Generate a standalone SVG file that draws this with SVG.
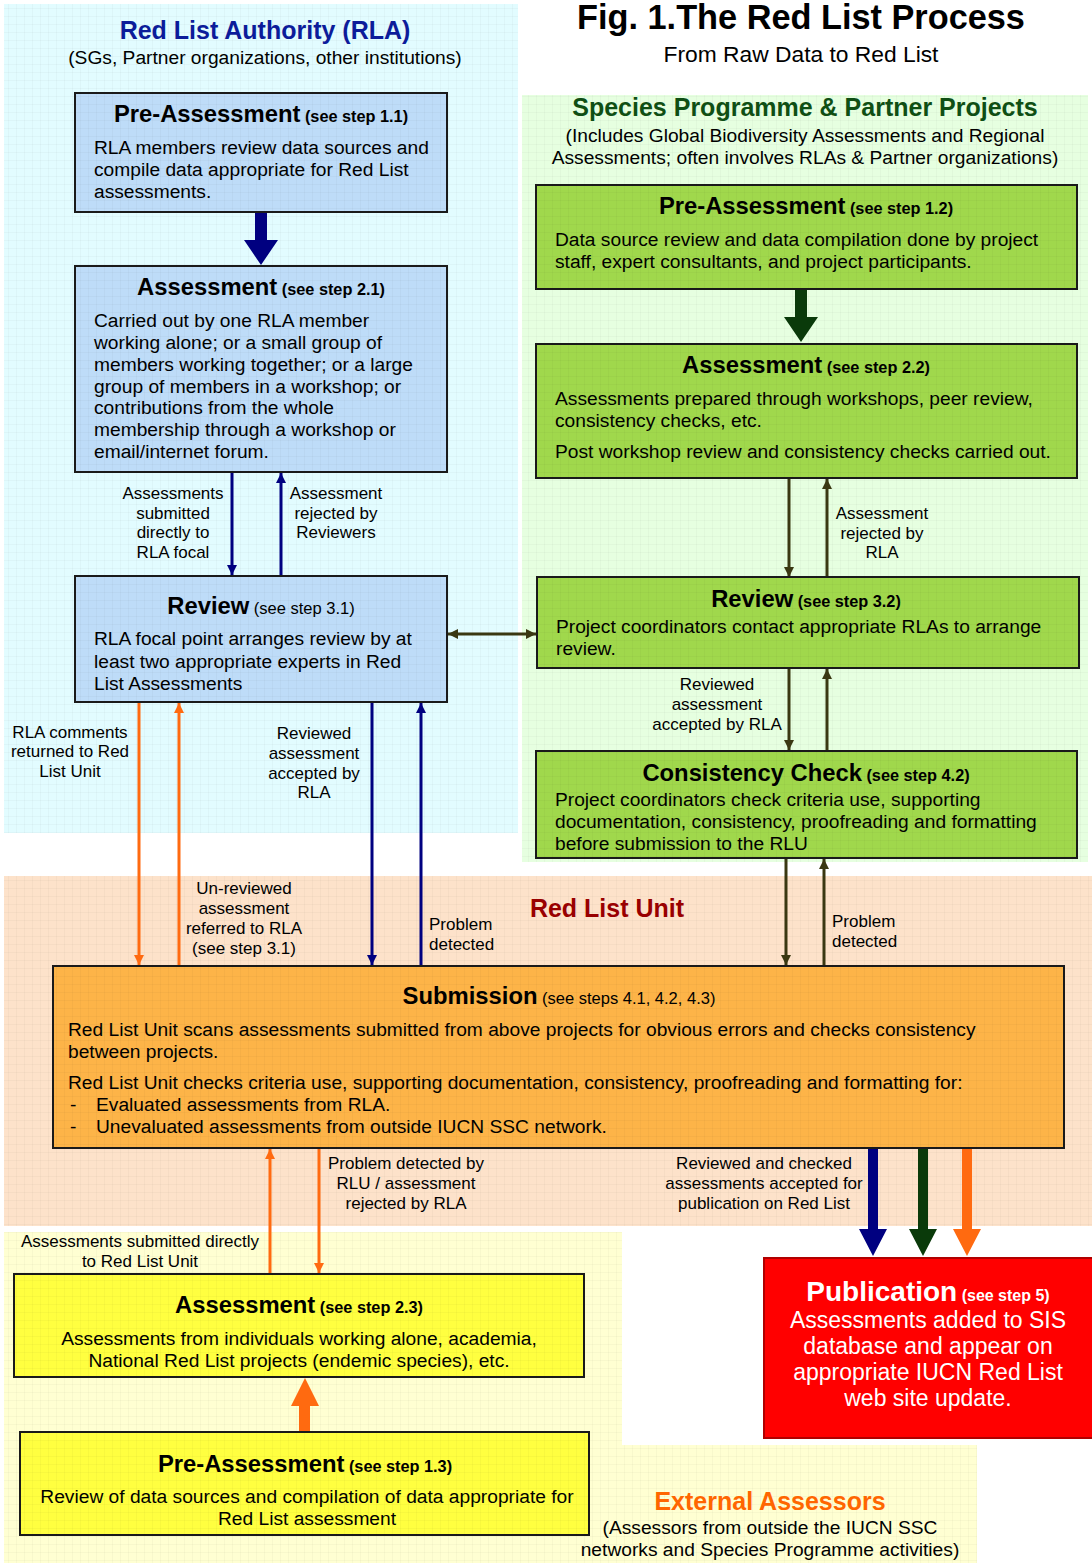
<svg xmlns="http://www.w3.org/2000/svg" width="1092" height="1563" viewBox="0 0 1092 1563">
<defs>
<style>
text{font-family:"Liberation Sans",Arial,sans-serif;fill:#000}
.box{stroke:#1a1a1a;stroke-width:2}
.blue{fill:#bedcf8}
.green{fill:#a0d84c}
.orange{fill:#fdb448}
.yellow{fill:#ffff40}
.red{fill:#ff0000;stroke:#b00000;stroke-width:2}
.t{font-size:23.8px;font-weight:bold}
.s{font-size:16.3px;font-weight:bold}
.sn{font-size:16.5px}
.b{font-size:19.2px}
.c{text-anchor:middle}
.lab{font-size:17px;text-anchor:middle}
.labl{font-size:17px}
.sub{font-size:19.2px;text-anchor:middle}
.navy{stroke:#000080;stroke-width:3;fill:none}
.org{stroke:#ff6a10;stroke-width:3;fill:none}
.olv{stroke:#3a3812;stroke-width:3;fill:none}
.grid{fill:url(#grid)}
.pub{font-size:23px;fill:#fff;text-anchor:middle}
</style>
<pattern id="grid" width="8" height="8" patternUnits="userSpaceOnUse">
<path d="M8 0H0V8" fill="none" stroke="#000" stroke-opacity="0.05" stroke-width="1"/>
</pattern>
<marker id="mNavy" viewBox="0 0 10 10" refX="10" refY="5" markerWidth="10" markerHeight="10" markerUnits="userSpaceOnUse" orient="auto"><path d="M0,0L10,5L0,10z" fill="#000080"/></marker>
<marker id="mOrg" viewBox="0 0 10 10" refX="10" refY="5" markerWidth="10" markerHeight="10" markerUnits="userSpaceOnUse" orient="auto"><path d="M0,0L10,5L0,10z" fill="#ff6a10"/></marker>
<marker id="mOlv" viewBox="0 0 10 10" refX="10" refY="5" markerWidth="10" markerHeight="10" markerUnits="userSpaceOnUse" orient="auto"><path d="M0,0L10,5L0,10z" fill="#3a3812"/></marker>
<marker id="mOlvS" viewBox="0 0 10 10" refX="10" refY="5" markerWidth="10" markerHeight="10" markerUnits="userSpaceOnUse" orient="auto-start-reverse"><path d="M0,0L10,5L0,10z" fill="#3a3812"/></marker>
</defs>
<rect width="1092" height="1563" fill="#fff"/>

<g id="regions">
<rect x="4" y="4" width="514" height="829" fill="#e2fcff"/>
<rect x="4" y="4" width="514" height="829" class="grid"/>
<rect x="522" y="95" width="566" height="767" fill="#e6ffe0"/>
<rect x="522" y="95" width="566" height="767" class="grid"/>
<rect x="4" y="876" width="1088" height="350" fill="#fde2ca"/>
<rect x="4" y="876" width="1088" height="350" class="grid"/>
<path d="M4 1232H622V1445H977V1563H4Z" fill="#ffffd2"/>
<path d="M4 1232H622V1445H977V1563H4Z" class="grid"/>
</g>

<g id="titles">
<text x="265" y="39" class="c" style="font-size:25px;font-weight:bold;fill:#0c1c9a">Red List Authority (RLA)</text>
<text x="265" y="64" class="sub">(SGs, Partner organizations, other institutions)</text>
<text x="801" y="29" class="c" style="font-size:34.3px;font-weight:bold">Fig. 1.The Red List Process</text>
<text x="801" y="62" class="c" style="font-size:22.8px">From Raw Data to Red List</text>
<text x="805" y="116" class="c" style="font-size:25px;font-weight:bold;fill:#0f4f14">Species Programme &amp; Partner Projects</text>
<text x="805" y="142" class="sub">(Includes Global Biodiversity Assessments and Regional</text>
<text x="805" y="164" class="sub">Assessments; often involves RLAs &amp; Partner organizations)</text>
<text x="607" y="917" class="c" style="font-size:25px;font-weight:bold;fill:#990000">Red List Unit</text>
<text x="770" y="1510" class="c" style="font-size:25px;font-weight:bold;fill:#ff6600">External Assessors</text>
<text x="770" y="1534" class="sub">(Assessors from outside the IUCN SSC</text>
<text x="770" y="1556" class="sub">networks and Species Programme activities)</text>
</g>

<g id="connectors">
<path d="M255 212H267V240H278L261 265L244 240H255Z" fill="#000080"/>
<path d="M795 289H807V317H818L801 342L784 317H795Z" fill="#0a3a0a"/>
<line x1="232" y1="472" x2="232" y2="575" class="navy" marker-end="url(#mNavy)"/>
<line x1="281" y1="576" x2="281" y2="473" class="navy" marker-end="url(#mNavy)"/>
<line x1="448" y1="634" x2="536" y2="634" class="olv" marker-start="url(#mOlvS)" marker-end="url(#mOlvS)"/>
<line x1="789" y1="478" x2="789" y2="577" class="olv" marker-end="url(#mOlv)"/>
<line x1="827" y1="577" x2="827" y2="479" class="olv" marker-end="url(#mOlv)"/>
<line x1="789" y1="668" x2="789" y2="750" class="olv" marker-end="url(#mOlv)"/>
<line x1="827" y1="751" x2="827" y2="669" class="olv" marker-end="url(#mOlv)"/>
<line x1="786" y1="858" x2="786" y2="965" class="olv" marker-end="url(#mOlv)"/>
<line x1="824" y1="966" x2="824" y2="859" class="olv" marker-end="url(#mOlv)"/>
<line x1="139" y1="702" x2="139" y2="965" class="org" marker-end="url(#mOrg)"/>
<line x1="179" y1="966" x2="179" y2="703" class="org" marker-end="url(#mOrg)"/>
<line x1="372" y1="702" x2="372" y2="965" class="navy" marker-end="url(#mNavy)"/>
<line x1="421" y1="966" x2="421" y2="703" class="navy" marker-end="url(#mNavy)"/>
<line x1="270" y1="1274" x2="270" y2="1149" class="org" marker-end="url(#mOrg)"/>
<line x1="319" y1="1148" x2="319" y2="1273" class="org" marker-end="url(#mOrg)"/>
<path d="M868 1148H878V1229H887L873 1256L859 1229H868Z" fill="#000080"/>
<path d="M918 1148H928V1229H937L923 1256L909 1229H918Z" fill="#0a3a0a"/>
<path d="M962 1148H972V1229H981L967 1256L953 1229H962Z" fill="#ff6a10"/>
<path d="M299 1432H310V1406H319L305 1378L291 1406H299Z" fill="#ff6a10"/>
</g>

<g id="connector-labels">
<text class="lab" x="173" y="499">Assessments</text>
<text class="lab" x="173" y="519">submitted</text>
<text class="lab" x="173" y="538">directly to</text>
<text class="lab" x="173" y="558">RLA focal</text>
<text class="lab" x="336" y="499">Assessment</text>
<text class="lab" x="336" y="519">rejected by</text>
<text class="lab" x="336" y="538">Reviewers</text>
<text class="lab" x="882" y="519">Assessment</text>
<text class="lab" x="882" y="539">rejected by</text>
<text class="lab" x="882" y="558">RLA</text>
<text class="lab" x="717" y="690">Reviewed</text>
<text class="lab" x="717" y="710">assessment</text>
<text class="lab" x="717" y="730">accepted by RLA</text>
<text class="lab" x="70" y="738">RLA comments</text>
<text class="lab" x="70" y="757">returned to Red</text>
<text class="lab" x="70" y="777">List Unit</text>
<text class="lab" x="314" y="739">Reviewed</text>
<text class="lab" x="314" y="759">assessment</text>
<text class="lab" x="314" y="779">accepted by</text>
<text class="lab" x="314" y="798">RLA</text>
<text class="lab" x="244" y="894">Un-reviewed</text>
<text class="lab" x="244" y="914">assessment</text>
<text class="lab" x="244" y="934">referred to RLA</text>
<text class="lab" x="244" y="954">(see step 3.1)</text>
<text class="labl" x="429" y="930">Problem</text>
<text class="labl" x="429" y="950">detected</text>
<text class="labl" x="832" y="927">Problem</text>
<text class="labl" x="832" y="947">detected</text>
<text class="lab" x="406" y="1169">Problem detected by</text>
<text class="lab" x="406" y="1189">RLU / assessment</text>
<text class="lab" x="406" y="1209">rejected by RLA</text>
<text class="lab" x="764" y="1169">Reviewed and checked</text>
<text class="lab" x="764" y="1189">assessments accepted for</text>
<text class="lab" x="764" y="1209">publication on Red List</text>
<text class="lab" x="140" y="1247">Assessments submitted directly</text>
<text class="lab" x="140" y="1267">to Red List Unit</text>
</g>

<g id="n-pre11">
<rect x="75" y="93" width="372" height="119" class="box blue"/>
<rect x="75" y="93" width="372" height="119" class="grid"/>
<text x="261" y="122" class="c"><tspan class="t">Pre-Assessment</tspan><tspan class="s"> (see step 1.1)</tspan></text>
<text x="94" y="154" class="b">RLA members review data sources and</text>
<text x="94" y="176" class="b">compile data appropriate for Red List</text>
<text x="94" y="198" class="b">assessments.</text>
</g>

<g id="n-ass21">
<rect x="75" y="266" width="372" height="206" class="box blue"/>
<rect x="75" y="266" width="372" height="206" class="grid"/>
<text x="261" y="295" class="c"><tspan class="t">Assessment</tspan><tspan class="s"> (see step 2.1)</tspan></text>
<text x="94" y="327" class="b">Carried out by one RLA member</text>
<text x="94" y="349" class="b">working alone; or a small group of</text>
<text x="94" y="371" class="b">members working together; or a large</text>
<text x="94" y="393" class="b">group of members in a workshop; or</text>
<text x="94" y="414" class="b">contributions from the whole</text>
<text x="94" y="436" class="b">membership through a workshop or</text>
<text x="94" y="458" class="b">email/internet forum.</text>
</g>

<g id="n-rev31">
<rect x="75" y="576" width="372" height="126" class="box blue"/>
<rect x="75" y="576" width="372" height="126" class="grid"/>
<text x="261" y="614" class="c"><tspan class="t">Review</tspan><tspan class="sn"> (see step 3.1)</tspan></text>
<text x="94" y="645" class="b">RLA focal point arranges review by at</text>
<text x="94" y="668" class="b">least two appropriate experts in Red</text>
<text x="94" y="690" class="b">List Assessments</text>
</g>

<g id="n-pre12">
<rect x="536" y="185" width="541" height="104" class="box green"/>
<rect x="536" y="185" width="541" height="104" class="grid"/>
<text x="806" y="214" class="c"><tspan class="t">Pre-Assessment</tspan><tspan class="s"> (see step 1.2)</tspan></text>
<text x="555" y="246" class="b">Data source review and data compilation done by project</text>
<text x="555" y="268" class="b">staff, expert consultants, and project participants.</text>
</g>

<g id="n-ass22">
<rect x="536" y="344" width="541" height="134" class="box green"/>
<rect x="536" y="344" width="541" height="134" class="grid"/>
<text x="806" y="373" class="c"><tspan class="t">Assessment</tspan><tspan class="s"> (see step 2.2)</tspan></text>
<text x="555" y="405" class="b">Assessments prepared through workshops, peer review,</text>
<text x="555" y="427" class="b">consistency checks, etc.</text>
<text x="555" y="458" class="b">Post workshop review and consistency checks carried out.</text>
</g>

<g id="n-rev32">
<rect x="537" y="577" width="542" height="91" class="box green"/>
<rect x="537" y="577" width="542" height="91" class="grid"/>
<text x="806" y="607" class="c"><tspan class="t">Review</tspan><tspan class="s"> (see step 3.2)</tspan></text>
<text x="556" y="633" class="b">Project coordinators contact appropriate RLAs to arrange</text>
<text x="556" y="655" class="b">review.</text>
</g>

<g id="n-cons42">
<rect x="536" y="751" width="541" height="107" class="box green"/>
<rect x="536" y="751" width="541" height="107" class="grid"/>
<text x="806" y="781" class="c"><tspan class="t">Consistency Check</tspan><tspan class="s"> (see step 4.2)</tspan></text>
<text x="555" y="806" class="b">Project coordinators check criteria use, supporting</text>
<text x="555" y="828" class="b">documentation, consistency, proofreading and formatting</text>
<text x="555" y="850" class="b">before submission to the RLU</text>
</g>

<g id="n-submission">
<rect x="53" y="966" width="1011" height="182" class="box orange"/>
<rect x="53" y="966" width="1011" height="182" class="grid"/>
<text x="559" y="1004" class="c"><tspan class="t">Submission</tspan><tspan class="sn"> (see steps 4.1, 4.2, 4.3)</tspan></text>
<text x="68" y="1036" class="b">Red List Unit scans assessments submitted from above projects for obvious errors and checks consistency</text>
<text x="68" y="1058" class="b">between projects.</text>
<text x="68" y="1089" class="b">Red List Unit checks criteria use, supporting documentation, consistency, proofreading and formatting for:</text>
<text x="70" y="1111" class="b">-</text>
<text x="96" y="1111" class="b">Evaluated assessments from RLA.</text>
<text x="70" y="1133" class="b">-</text>
<text x="96" y="1133" class="b">Unevaluated assessments from outside IUCN SSC network.</text>
</g>

<g id="n-ass23">
<rect x="14" y="1274" width="570" height="103" class="box yellow"/>
<rect x="14" y="1274" width="570" height="103" class="grid"/>
<text x="299" y="1313" class="c"><tspan class="t">Assessment</tspan><tspan class="s"> (see step 2.3)</tspan></text>
<text x="299" y="1345" class="b c">Assessments from individuals working alone, academia,</text>
<text x="299" y="1367" class="b c">National Red List projects (endemic species), etc.</text>
</g>

<g id="n-pre13">
<rect x="20" y="1432" width="569" height="103" class="box yellow"/>
<rect x="20" y="1432" width="569" height="103" class="grid"/>
<text x="305" y="1472" class="c"><tspan class="t">Pre-Assessment</tspan><tspan class="s"> (see step 1.3)</tspan></text>
<text x="307" y="1503" class="b c">Review of data sources and compilation of data appropriate for</text>
<text x="307" y="1525" class="b c">Red List assessment</text>
</g>

<g id="n-publication">
<rect x="764" y="1258" width="330" height="180" class="red"/>
<text x="928" y="1301" class="c" style="fill:#fff"><tspan style="font-size:28px;font-weight:bold;fill:#fff">Publication</tspan><tspan style="font-size:16px;font-weight:bold;fill:#fff"> (see step 5)</tspan></text>
<text x="928" y="1328" class="pub">Assessments added to SIS</text>
<text x="928" y="1354" class="pub">database and appear on</text>
<text x="928" y="1380" class="pub">appropriate IUCN Red List</text>
<text x="928" y="1406" class="pub">web site update.</text>
</g>
</svg>
